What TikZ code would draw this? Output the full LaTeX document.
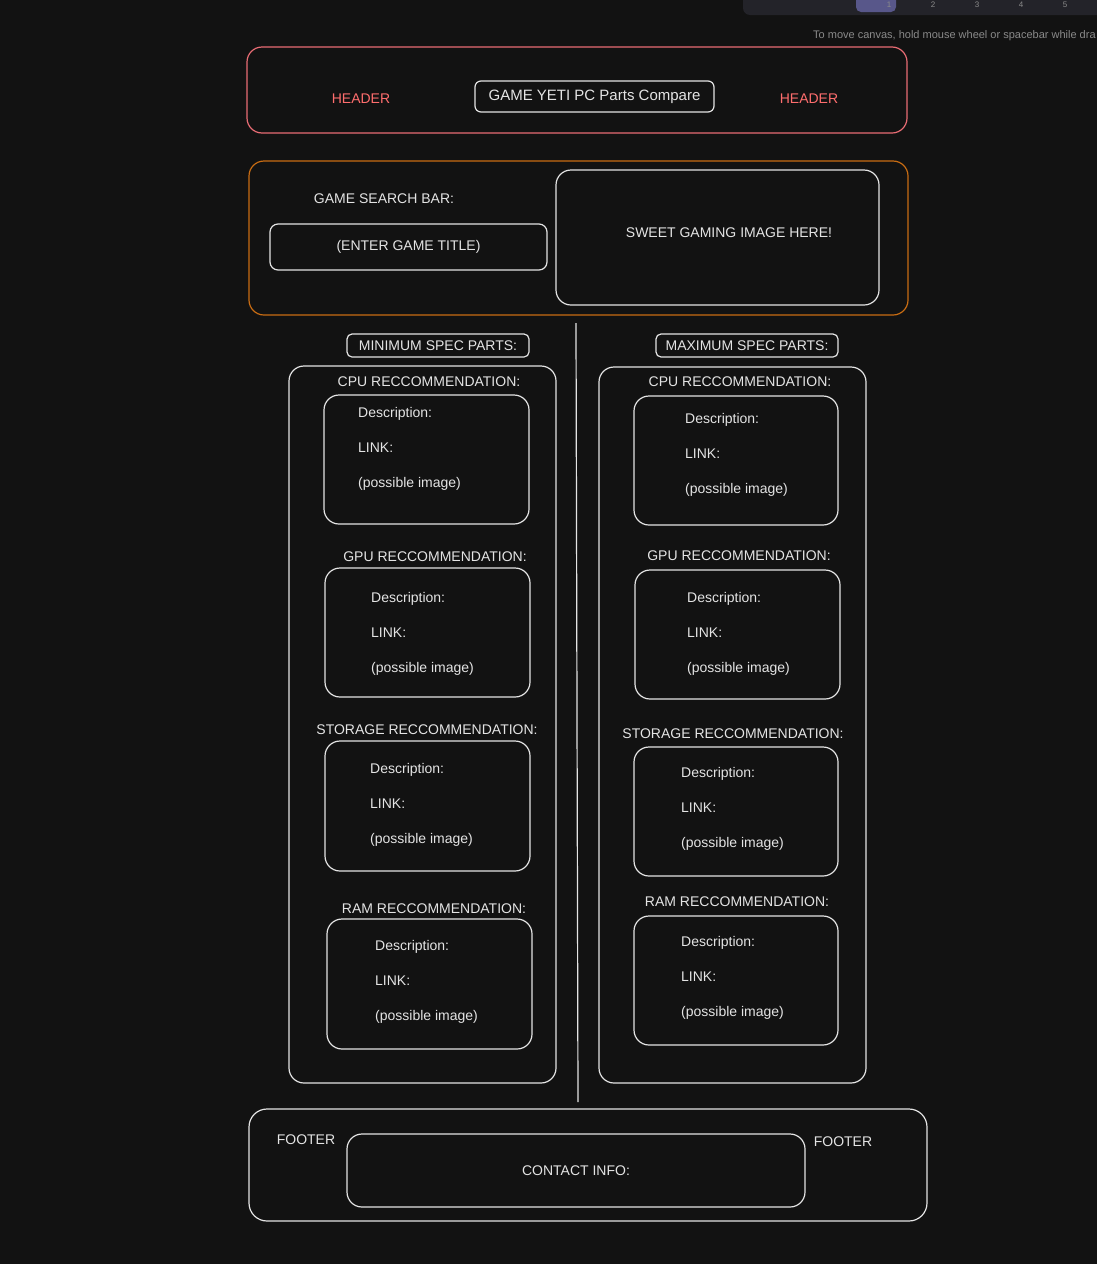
\documentclass[tikz,border=0pt]{standalone}
\usepackage{fontspec}
\setmainfont{Liberation Sans}
\usetikzlibrary{positioning}

\definecolor{canvas}{RGB}{18,18,18}
\definecolor{pen}{RGB}{228,228,228}
\definecolor{redpen}{RGB}{232,108,116}
\definecolor{redtext}{RGB}{255,110,110}
\definecolor{orangepen}{RGB}{200,108,18}
\definecolor{toolbar}{RGB}{35,35,41}
\definecolor{toolsel}{RGB}{88,87,138}
\definecolor{hint}{RGB}{138,138,138}

\begin{document}
\begin{tikzpicture}[x=1pt,y=-1pt]

      \tikzstyle{box}=[rectangle,rounded corners=15pt,
        draw=pen,line width=1.2pt,inner sep=0pt,
        text=pen,font=\fontsize{14}{16}\selectfont]
      \tikzstyle{tag}=[box,rounded corners=5pt]
      \tikzstyle{words}=[inner sep=0pt,text=pen,
        font=\fontsize{14}{16}\selectfont]
      \tikzstyle{line}=[words,anchor=west]
      \tikzstyle{toolnum}=[words,text=hint,
        font=\fontsize{8}{9}\selectfont]

      % canvas
      \useasboundingbox (0,0) rectangle (1097,1264);
      \clip (0,0) rectangle (1097,1264);
      \fill [canvas] (0,0) rectangle (1097,1264);

      % editor chrome
      \fill [toolbar,rounded corners=7pt] (743,-20) rectangle (1120,15);
      \fill [toolsel,rounded corners=5pt] (856,-8) rectangle (896,12);
      \node(tool1)[toolnum] at (889,5){1};
      \node(tool2)[toolnum] at (933,5){2};
      \node(tool3)[toolnum] at (977,5){3};
      \node(tool4)[toolnum] at (1021,5){4};
      \node(tool5)[toolnum] at (1065,5){5};
      \node(hinttext)[words,anchor=west,text=hint,
        font=\fontsize{11}{12}\selectfont] at (813,36)
        {To move canvas, hold mouse wheel or spacebar while dra};

      % header
      \node(header)[box,draw=redpen,minimum width=660,
        minimum height=86] at (577,90){};
      \node(title)[box,rounded corners=6pt,minimum width=239,
        minimum height=31,font=\fontsize{15}{17}\selectfont]
        at (594.5,96.5){GAME YETI PC Parts Compare};
      \node(headerL)[words,text=redtext] at (361,99){HEADER};
      \node(headerR)[words,text=redtext] at (809,99){HEADER};

      % search bar
      \node(search)[box,draw=orangepen,minimum width=659,
        minimum height=154] at (578.5,238){};
      \node(searchlabel)[words] at (384,199){GAME SEARCH BAR:};
      \node(searchbox)[box,rounded corners=8pt,minimum width=277,
        minimum height=46] at (408.5,247){(ENTER GAME TITLE)};
      \node(imagebox)[box,minimum width=323,minimum height=135]
        at (717.5,237.5){};
      \node(imagetext)[words] at (729,233){SWEET GAMING IMAGE HERE!};

      % divider
      \coordinate(divtop) at (576,323);
      \coordinate(divbot) at (578,1102);
      \draw [pen,line width=1.2pt] (divtop)--(divbot);

      % minimum spec column
      \node(minlabel)[tag,minimum width=182,minimum height=23]
        at (438,345.5){MINIMUM SPEC PARTS:};
      \node(minpanel)[box,minimum width=267,minimum height=717]
        at (422.5,724.5){};

      \node(mincpulabel)[words] at (429,382){CPU RECCOMMENDATION:};
      \node(mincpu)[box,minimum width=205,minimum height=129]
        at (426.5,459.5){};
      \node(mincpuA)[line] at (358,414){Description:};
      \node(mincpuB)[line] at (358,448){LINK:};
      \node(mincpuC)[line] at (358,484){(possible image)};

      \node(mingpulabel)[words] at (435,557){GPU RECCOMMENDATION:};
      \node(mingpu)[box,minimum width=205,minimum height=129]
        at (427.5,632.5){};
      \node(mingpuA)[line] at (371,599){Description:};
      \node(mingpuB)[line] at (371,633){LINK:};
      \node(mingpuC)[line] at (371,669){(possible image)};

      \node(minstolabel)[words] at (427,730){STORAGE RECCOMMENDATION:};
      \node(minsto)[box,minimum width=205,minimum height=130]
        at (427.5,806){};
      \node(minstoA)[line] at (370,770){Description:};
      \node(minstoB)[line] at (370,804){LINK:};
      \node(minstoC)[line] at (370,840){(possible image)};

      \node(minramlabel)[words] at (434,909){RAM RECCOMMENDATION:};
      \node(minram)[box,minimum width=205,minimum height=130]
        at (429.5,984){};
      \node(minramA)[line] at (375,947){Description:};
      \node(minramB)[line] at (375,981){LINK:};
      \node(minramC)[line] at (375,1017){(possible image)};

      % maximum spec column
      \node(maxlabel)[tag,minimum width=182,minimum height=23]
        at (747,345.5){MAXIMUM SPEC PARTS:};
      \node(maxpanel)[box,minimum width=267,minimum height=716]
        at (732.5,725){};

      \node(maxcpulabel)[words] at (740,382){CPU RECCOMMENDATION:};
      \node(maxcpu)[box,minimum width=204,minimum height=129]
        at (736,460.5){};
      \node(maxcpuA)[line] at (685,420){Description:};
      \node(maxcpuB)[line] at (685,454){LINK:};
      \node(maxcpuC)[line] at (685,490){(possible image)};

      \node(maxgpulabel)[words] at (739,556){GPU RECCOMMENDATION:};
      \node(maxgpu)[box,minimum width=205,minimum height=129]
        at (737.5,634.5){};
      \node(maxgpuA)[line] at (687,599){Description:};
      \node(maxgpuB)[line] at (687,633){LINK:};
      \node(maxgpuC)[line] at (687,669){(possible image)};

      \node(maxstolabel)[words] at (733,734){STORAGE RECCOMMENDATION:};
      \node(maxsto)[box,minimum width=204,minimum height=129]
        at (736,811.5){};
      \node(maxstoA)[line] at (681,774){Description:};
      \node(maxstoB)[line] at (681,808){LINK:};
      \node(maxstoC)[line] at (681,844){(possible image)};

      \node(maxramlabel)[words] at (737,902){RAM RECCOMMENDATION:};
      \node(maxram)[box,minimum width=204,minimum height=129]
        at (736,980.5){};
      \node(maxramA)[line] at (681,943){Description:};
      \node(maxramB)[line] at (681,977){LINK:};
      \node(maxramC)[line] at (681,1013){(possible image)};

      % footer
      \node(footer)[box,rounded corners=18pt,minimum width=678,
        minimum height=112] at (588,1165){};
      \node(footerL)[words] at (306,1140){FOOTER};
      \node(footerR)[words] at (843,1142){FOOTER};
      \node(contact)[box,minimum width=458,minimum height=73]
        at (576,1170.5){CONTACT INFO:};

    \end{tikzpicture}
\end{document}
